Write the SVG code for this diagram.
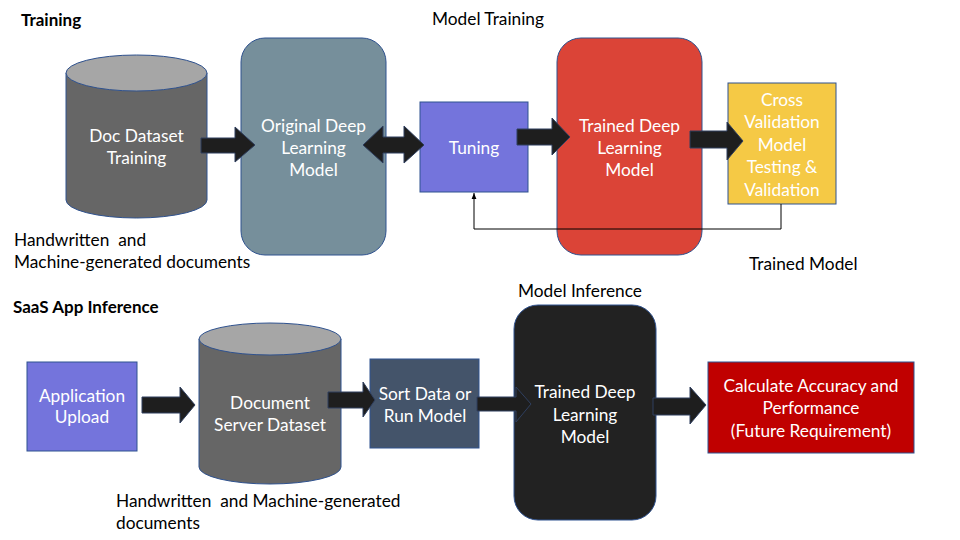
<svg xmlns="http://www.w3.org/2000/svg" width="960" height="540" viewBox="0 0 960 540">
<style>
text{white-space:pre}
.t{font-family:Lato,"Liberation Sans",sans-serif;font-size:17.3px;fill:#000}
.w{font-family:Lato,"Liberation Sans",sans-serif;font-size:17.3px;fill:#fff;text-anchor:middle}
.b{font-family:Lato,"Liberation Sans",sans-serif;font-size:17px;font-weight:bold;fill:#000}
.n{stroke:#2f528f;stroke-width:1}
.arr{fill:#1e1e1e;stroke:#2f3f5f;stroke-width:1}
.fb{fill:none;stroke:#000;stroke-width:1}
</style>
<defs>
<marker id="ah" viewBox="0 0 10 10" refX="10" refY="5" markerWidth="6" markerHeight="6" orient="auto-start-reverse">
<path d="M0,1 L10,5 L0,9 Z" fill="#000"/>
</marker>
</defs>
<rect width="960" height="540" fill="#fff"/>
<text class="b" x="21" y="26">Training</text>
<text class="t" x="432" y="25">Model Training</text>
<text class="b" x="13" y="313">SaaS App Inference</text>
<text class="t" x="518" y="297">Model Inference</text>
<text class="t" x="749" y="270">Trained Model</text>
<text class="t" x="14" y="246" xml:space="preserve">Handwritten  and</text>
<text class="t" x="14" y="268">Machine-generated documents</text>
<text class="t" x="116" y="507" xml:space="preserve">Handwritten  and Machine-generated</text>
<text class="t" x="116" y="529">documents</text>

<g id="doc-dataset">
<path class="n" d="M66,73 V200 A70.5,18 0 0 0 207,200 V73 Z" fill="#666666"/>
<ellipse class="n" cx="136.5" cy="73" rx="70.5" ry="18" fill="#a6a6a6"/>
<text class="w" x="136.5" y="142">Doc Dataset</text>
<text class="w" x="136.5" y="164">Training</text>
</g>
<g id="original-model">
<rect class="n" x="241" y="38" width="145" height="217" rx="24" fill="#768f9b"/>
<text class="w" x="313.5" y="132">Original Deep</text>
<text class="w" x="313.5" y="154">Learning</text>
<text class="w" x="313.5" y="176">Model</text>
</g>
<g id="tuning">
<rect class="n" x="420" y="102" width="108" height="90" fill="#7474dc"/>
<text class="w" x="474" y="154">Tuning</text>
</g>
<g id="trained-model">
<rect class="n" x="557" y="38" width="145" height="217" rx="24" fill="#db4437"/>
<text class="w" x="629.5" y="132">Trained Deep</text>
<text class="w" x="629.5" y="154">Learning</text>
<text class="w" x="629.5" y="176">Model</text>
</g>
<g id="cross-validation">
<rect class="n" x="728" y="83" width="108" height="121" fill="#f5c945"/>
<text class="w" x="782" y="106">Cross</text>
<text class="w" x="782" y="128">Validation</text>
<text class="w" x="782" y="151">Model</text>
<text class="w" x="782" y="173">Testing &amp;</text>
<text class="w" x="782" y="196">Validation</text>
</g>

<g id="app-upload">
<rect class="n" x="27" y="362" width="110" height="89" fill="#7474dc"/>
<text class="w" x="82" y="402">Application</text>
<text class="w" x="82" y="423">Upload</text>
</g>
<g id="doc-server">
<path class="n" d="M199,339 V467 A71,17 0 0 0 341,467 V339 Z" fill="#666666"/>
<ellipse class="n" cx="270" cy="339" rx="71" ry="16" fill="#a6a6a6"/>
<text class="w" x="270" y="409">Document</text>
<text class="w" x="270" y="431">Server Dataset</text>
</g>
<g id="sort-data">
<rect class="n" x="370" y="359" width="109" height="89" fill="#44546a"/>
<text class="w" x="425" y="400">Sort Data or</text>
<text class="w" x="425" y="422">Run Model</text>
</g>
<g id="inference-model">
<rect class="n" x="514" y="305" width="142" height="215" rx="24" fill="#222222"/>
<text class="w" x="585" y="398">Trained Deep</text>
<text class="w" x="585" y="421">Learning</text>
<text class="w" x="585" y="443">Model</text>
</g>
<g id="calculate">
<rect class="n" x="708" y="362" width="206" height="91" fill="#c00000"/>
<text class="w" x="811" y="392">Calculate Accuracy and</text>
<text class="w" x="811" y="414">Performance</text>
<text class="w" x="811" y="437">(Future Requirement)</text>
</g>

<g id="connectors">
<path class="arr" d="M201,138 H235 V127 L255,145 L235,162 V153 H201 Z"/>
<path class="arr" d="M363,145 L383,126 V137 H404 V126 L424,145 L404,163 V153 H383 V163 Z"/>
<path class="arr" d="M517,129 H552 V118 L570,137 L552,155 V145 H517 Z"/>
<path class="arr" d="M690,131 H727 V122 L743,141 L727,160 V148 H690 Z"/>
<path class="fb" d="M781,204 V229 H474 V193" marker-end="url(#ah)"/>
<path class="arr" d="M142,397 H180 V387 L195,405 L180,423 V413 H142 Z"/>
<path class="arr" d="M328,392 H363 V382 L375,400 L363,417 V408 H328 Z"/>
<path class="arr" d="M477,397 H516 V387 L531,404 L516,422 V411 H477 Z"/>
<path class="arr" d="M653,398 H690 V387 L706,405 L690,424 V415 H653 Z"/>
</g>
</svg>
